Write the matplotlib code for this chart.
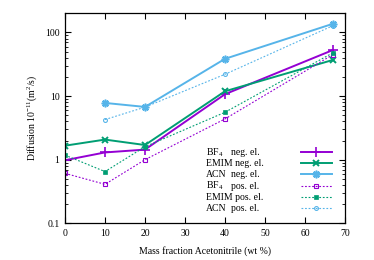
import matplotlib
matplotlib.use("Agg")
import matplotlib.pyplot as plt
from matplotlib.lines import Line2D
from matplotlib.ticker import FixedLocator, LogLocator, NullFormatter, FixedFormatter

plt.rcParams['font.family'] = ['Liberation Serif', 'DejaVu Serif']
plt.rcParams['mathtext.fontset'] = 'custom'
plt.rcParams['mathtext.rm'] = 'Liberation Serif'
plt.rcParams['mathtext.it'] = 'Liberation Serif:italic'

x_full = [0, 10, 20, 40, 67]
x_acn = [10, 20, 40, 67]

bf4_neg = [0.98, 1.3, 1.44, 10.7, 53]
emim_neg = [1.66, 2.07, 1.70, 11.9, 37]
acn_neg = [7.8, 6.75, 38.5, 137]
bf4_pos = [0.61, 0.41, 1.0, 4.37, 45]
emim_pos = [1.18, 0.65, 1.6, 5.56, 48]
acn_pos = [4.27, 6.7, 22, 128]

names = ["BF$_4$", "EMIM", "ACN", "BF$_4$", "EMIM", "ACN"]
states = ["neg. el.", "neg. el.", "neg. el.", "pos. el.", "pos. el.", "pos. el."]

purple = '#9400d3'
green = '#009e73'
blue = '#56b4e9'
dot = (0, (1.6, 1.6))

styles = [
    dict(color=purple, lw=1.4, marker='+', ms=6.5, mew=1.2),
    dict(color=green, lw=1.4, marker='x', ms=5, mew=1.4),
    dict(color=blue, lw=1.4, marker=(8, 2, 0), ms=5.5, mew=1.2),
    dict(color=purple, lw=0.8, ls=dot, marker='s', ms=2.6, mfc='none', mew=0.8),
    dict(color=green, lw=0.8, ls=dot, marker='s', ms=2.4, mew=0.5),
    dict(color=blue, lw=0.8, ls=dot, marker='o', ms=2.8, mfc='none', mew=0.8),
]
series = [(x_full, bf4_neg), (x_full, emim_neg), (x_acn, acn_neg),
          (x_full, bf4_pos), (x_full, emim_pos), (x_acn, acn_pos)]

fig = plt.figure(figsize=(3.74, 2.60), dpi=100)
ax = fig.add_axes([65/374, 36.7/260, 280/374, 210/260])

for (xs, ys), st in zip(series, styles):
    ax.plot(xs, ys, **st)

ax.set_yscale('log')
ax.set_xlim(0, 70)
ax.set_ylim(0.1, 200)
ax.set_xticks(range(0, 71, 10))
ax.yaxis.set_major_locator(FixedLocator([0.1, 1, 10, 100]))
ax.yaxis.set_major_formatter(FixedFormatter(['0.1', '1', '10', '100']))
ax.yaxis.set_minor_locator(LogLocator(base=10, subs=range(2, 10)))
ax.yaxis.set_minor_formatter(NullFormatter())
ax.tick_params(which='both', direction='in', top=True, right=True, labelsize=7, pad=4)
ax.tick_params(which='major', length=4, width=0.8)
ax.tick_params(which='minor', length=2, width=0.6)
for s in ax.spines.values():
    s.set_linewidth(0.9)

ax.set_xlabel('Mass fraction Acetonitrile (wt %)', fontsize=7, labelpad=6)
ax.set_ylabel(r'Diffusion 10$^{-11}$(m$^2$/s)', fontsize=7, labelpad=4)

# gnuplot-style key: text left, sample on right
row_base = [0.3229, 0.2705, 0.2195, 0.1638, 0.1114, 0.0562]
row_mid = [0.338, 0.2857, 0.2348, 0.179, 0.1267, 0.0714]
for i, st in enumerate(styles):
    if names[i] == "EMIM":
        ax.text(0.5036, row_base[i], names[i] + " " + states[i], transform=ax.transAxes,
                fontsize=7, va='baseline', ha='left')
    else:
        ax.text(0.5036, row_base[i], names[i], transform=ax.transAxes,
                fontsize=7, va='baseline', ha='left')
        ax.text(0.5918, row_base[i], states[i], transform=ax.transAxes,
                fontsize=7, va='baseline', ha='left')
    ln = Line2D([0.843, 0.896, 0.9525], [row_mid[i]] * 3, transform=ax.transAxes,
                markevery=[1], clip_on=False, **st)
    ax.add_line(ln)

fig.savefig('out.png', dpi=100)
